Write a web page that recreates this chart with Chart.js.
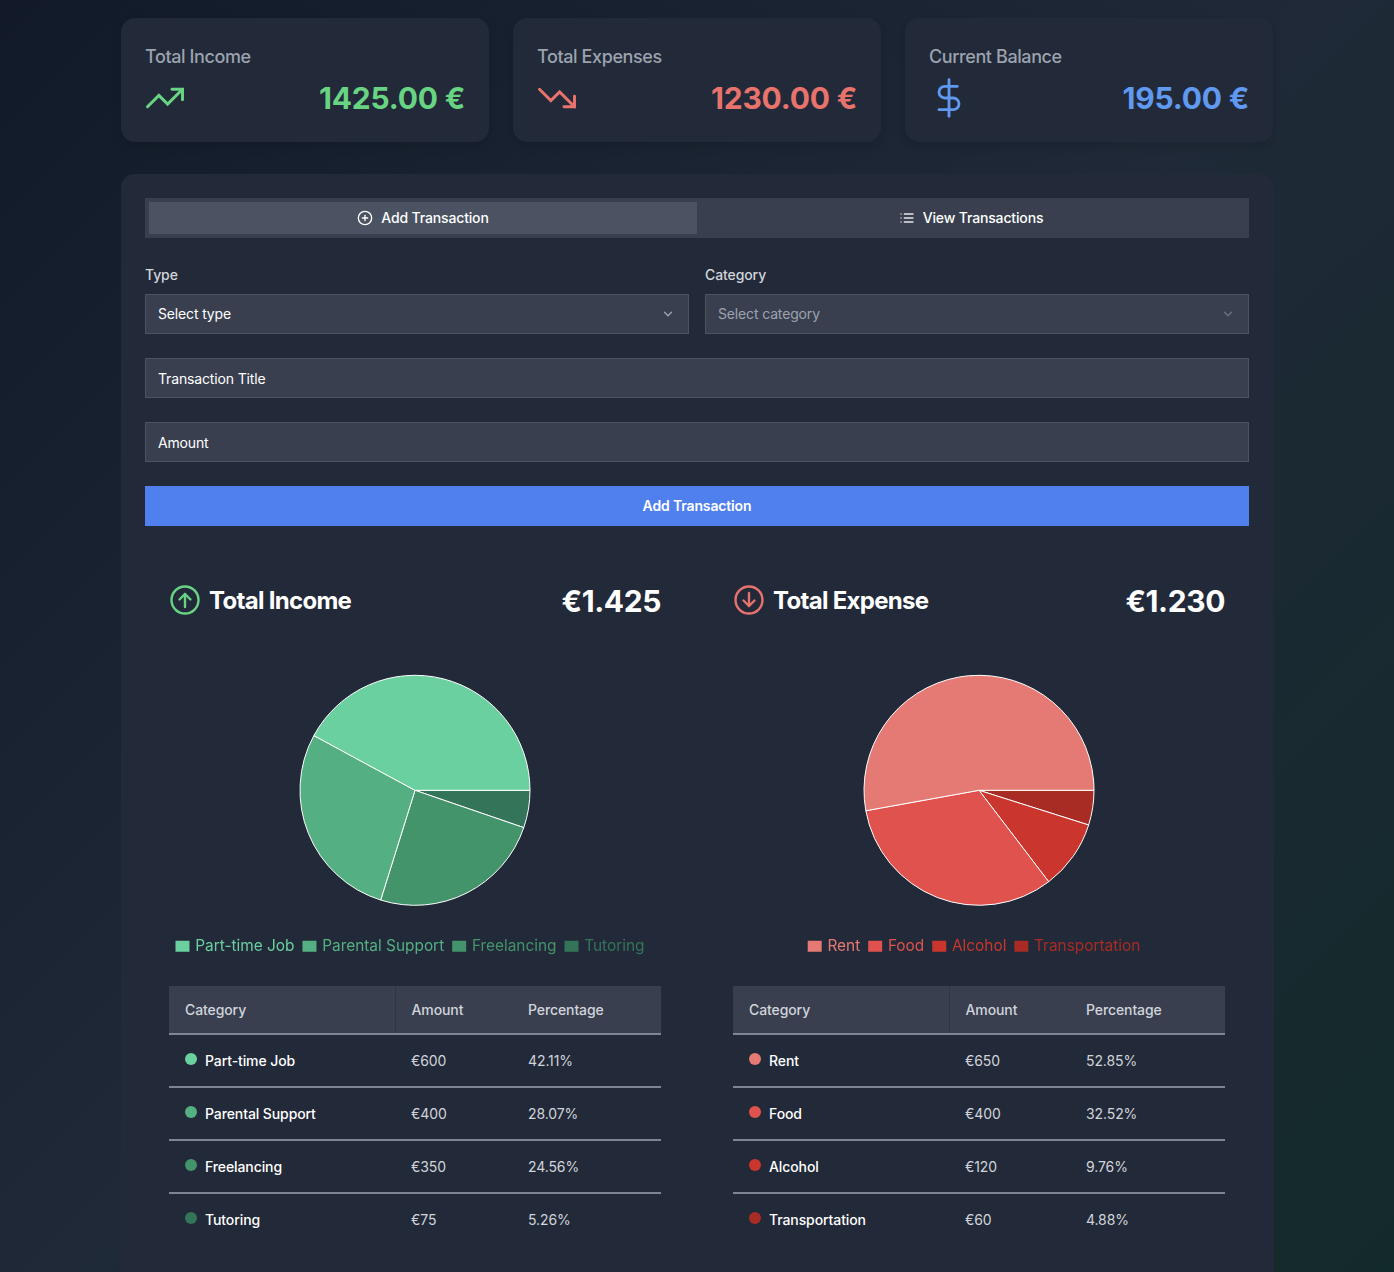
<!DOCTYPE html>
<html>
<head>
<meta charset="utf-8">
<script src="https://cdn.jsdelivr.net/npm/chart.js@4/dist/chart.umd.min.js"></script>
<style>
* { box-sizing: border-box; }
html, body { margin: 0; width: 1394px; height: 1272px; overflow: hidden; }
body {
  position: relative;
  font-family: Inter, "Noto Sans", sans-serif;
  color: #fff;
  background: linear-gradient(135deg, #121a29 0%, #1f2937 50%, #132a2a 100%);
}
.abs { position: absolute; }
.card { position: absolute; top: 18px; width: 368px; height: 124px; background: #222938; border-radius: 14px; box-shadow: 0 4px 10px rgba(0,0,0,.12); }
.card .lbl { position: absolute; left: 24px; top: 28px; font-size: 18px; line-height: 22px; font-weight: 500; letter-spacing: -0.4px; color: #9ca3af; }
.card .val { position: absolute; right: 24px; top: 60px; font-size: 30px; line-height: 40px; font-weight: 700; letter-spacing: -0.2px; }
.card svg { position: absolute; }
#panel { position: absolute; left: 121px; top: 174px; width: 1153px; height: 1110px; background: #222938; border-radius: 14px; }
.bar { position: absolute; display: flex; align-items: center; font-size: 14px; letter-spacing: -0.15px; padding-bottom: 1px; }
.field { background: #393f4f; border: 1px solid #4b5261; padding-left: 12px; height: 40px; }
.flabel { position: absolute; top: 266px; font-size: 14px; line-height: 17px; font-weight: 500; letter-spacing: -0.1px; color: #d1d5db; }
.head { position: absolute; top: 585px; font-size: 24px; line-height: 32px; font-weight: 700; letter-spacing: -0.7px; }
.total { position: absolute; top: 581px; font-size: 30px; line-height: 40px; font-weight: 700; letter-spacing: -0.4px; }
.chartbox { position: absolute; top: 652px; width: 492px; height: 312px; }
table { position: absolute; top: 986px; width: 492px; border-collapse: collapse; table-layout: fixed; font-size: 14px; letter-spacing: -0.1px; }
th { height: 48px; background: #393f4f; color: #d1d5db; font-weight: 500; text-align: left; padding: 0 16px; border-bottom: 2px solid #7f8592; }
th:first-child { border-right: 1px solid #2f3545; }
td { height: 53px; padding: 0 16px; color: #d1d5db; border-bottom: 2px solid #7f8592; }
tr:last-child td { border-bottom: none; padding-bottom: 2px; }
td.name { color: #fff; font-weight: 500; }
.dot { display: inline-block; width: 12px; height: 12px; border-radius: 50%; margin-right: 8px; position: relative; top: -1px; }
</style>
</head>
<body>

<div class="card" style="left:121px">
  <div class="lbl">Total Income</div>
  <svg style="left:23px;top:59px" width="42" height="42" viewBox="0 0 24 24" fill="none" stroke="#68d483" stroke-width="1.7" stroke-linecap="round" stroke-linejoin="miter"><polyline points="22 7 13.5 15.5 8.5 10.5 2 17"/><polyline points="16 7 22 7 22 13"/></svg>
  <div class="val" style="color:#68d483">1425.00 €</div>
</div>
<div class="card" style="left:513px">
  <div class="lbl">Total Expenses</div>
  <svg style="left:23px;top:59px" width="42" height="42" viewBox="0 0 24 24" fill="none" stroke="#e8736c" stroke-width="1.7" stroke-linecap="round" stroke-linejoin="miter"><polyline points="22 17 13.5 8.5 8.5 13.5 2 7"/><polyline points="16 17 22 17 22 11"/></svg>
  <div class="val" style="color:#e8736c">1230.00 €</div>
</div>
<div class="card" style="left:905px">
  <div class="lbl">Current Balance</div>
  <svg style="left:24px;top:60px" width="40" height="40" viewBox="0 0 24 24" fill="none" stroke="#609af0" stroke-width="1.7" stroke-linecap="round" stroke-linejoin="round"><line x1="12" y1="1" x2="12" y2="23"/><path d="M17 5H9.5a3.5 3.5 0 0 0 0 7h5a3.5 3.5 0 0 1 0 7H6"/></svg>
  <div class="val" style="color:#609af0">195.00 €</div>
</div>

<div id="panel"></div>

<div class="abs" style="left:145px;top:198px;width:1104px;height:40px;background:#393f4f"></div>
<div class="bar" style="left:149px;top:202px;width:548px;height:32px;background:#4b5261;justify-content:center;font-weight:500">
  <svg width="16" height="16" viewBox="0 0 24 24" fill="none" stroke="#fff" stroke-width="2" stroke-linecap="round" style="margin-right:8px"><circle cx="12" cy="12" r="10"/><line x1="12" y1="8" x2="12" y2="16"/><line x1="8" y1="12" x2="16" y2="12"/></svg>Add Transaction
</div>
<div class="bar" style="left:697px;top:202px;width:548px;height:32px;justify-content:center;font-weight:500">
  <svg width="16" height="16" viewBox="0 0 24 24" fill="none" stroke="#e5e7eb" stroke-width="2" stroke-linecap="round" style="margin-right:8px"><line x1="8" y1="6" x2="21" y2="6"/><line x1="8" y1="12" x2="21" y2="12"/><line x1="8" y1="18" x2="21" y2="18"/><line x1="3" y1="6" x2="3.01" y2="6"/><line x1="3" y1="12" x2="3.01" y2="12"/><line x1="3" y1="18" x2="3.01" y2="18"/></svg>View Transactions
</div>

<div class="flabel" style="left:145px">Type</div>
<div class="flabel" style="left:705px">Category</div>
<div class="bar field" style="left:145px;top:294px;width:544px">Select type
  <svg class="abs" style="right:13px;top:12px" width="14" height="14" viewBox="0 0 24 24" fill="none" stroke="#9ca3af" stroke-width="2.4" stroke-linecap="round" stroke-linejoin="round"><polyline points="6 9 12 15 18 9"/></svg>
</div>
<div class="bar field" style="left:705px;top:294px;width:544px;color:#9ca3af">Select category
  <svg class="abs" style="right:13px;top:12px" width="14" height="14" viewBox="0 0 24 24" fill="none" stroke="#6b7280" stroke-width="2.4" stroke-linecap="round" stroke-linejoin="round"><polyline points="6 9 12 15 18 9"/></svg>
</div>
<div class="bar field" style="left:145px;top:358px;width:1104px;padding-bottom:0">Transaction Title</div>
<div class="bar field" style="left:145px;top:422px;width:1104px;padding-bottom:0">Amount</div>
<div class="bar" style="left:145px;top:486px;width:1104px;height:40px;background:#4f80ee;justify-content:center;font-weight:600">Add Transaction</div>

<svg class="abs" style="left:169px;top:584px" width="32" height="32" viewBox="0 0 32 32" fill="none" stroke="#68d483" stroke-width="2.4" stroke-linecap="round" stroke-linejoin="round"><circle cx="16" cy="16" r="13.5"/><line x1="16" y1="23" x2="16" y2="10"/><polyline points="10.5 15.5 16 10 21.5 15.5"/></svg>
<div class="head" style="left:209px">Total Income</div>
<div class="total" style="right:733px">€1.425</div>
<div class="chartbox" style="left:169px"><canvas id="incomeChart"></canvas></div>
<table id="incomeTable" style="left:169px"></table>

<svg class="abs" style="left:733px;top:584px" width="32" height="32" viewBox="0 0 32 32" fill="none" stroke="#e8736c" stroke-width="2.4" stroke-linecap="round" stroke-linejoin="round"><circle cx="16" cy="16" r="13.5"/><line x1="16" y1="9" x2="16" y2="22"/><polyline points="10.5 16.5 16 22 21.5 16.5"/></svg>
<div class="head" style="left:773px">Total Expense</div>
<div class="total" style="right:169px">€1.230</div>
<div class="chartbox" style="left:733px"><canvas id="expenseChart"></canvas></div>
<table id="expenseTable" style="left:733px"></table>

<script>
const incomeCategories = ['Part-time Job', 'Parental Support', 'Freelancing', 'Tutoring'];
const incomeAmounts = [600, 400, 350, 75];
const incomePercents = ['42.11%', '28.07%', '24.56%', '5.26%'];
const incomeColors = ['#6bd09f', '#54b083', '#43936b', '#34755a'];

const expenseCategories = ['Rent', 'Food', 'Alcohol', 'Transportation'];
const expenseAmounts = [650, 400, 120, 60];
const expensePercents = ['52.85%', '32.52%', '9.76%', '4.88%'];
const expenseColors = ['#e57a74', '#e0524d', '#ca362d', '#a82b24'];

// the original legend sits a few px left of the pie centre
const nudgeLegend = {
  id: 'nudgeLegend',
  afterLayout(chart) {
    chart.legend.left -= 4;
    chart.legend.right -= 4;
  }
};

// slices run counter-clockwise from 3 o'clock in the original, chart.js only goes clockwise
// so feed them backwards and flip the legend back
function pieConfig(labels, values, colors) {
  return {
    type: 'pie',
    plugins: [nudgeLegend],
    data: {
      labels: [...labels].reverse(),
      datasets: [{
        data: [...values].reverse(),
        backgroundColor: [...colors].reverse(),
        borderColor: '#ffffff',
        borderWidth: 1
      }]
    },
    options: {
      responsive: true,
      maintainAspectRatio: false,
      animation: false,
      rotation: 90,
      radius: 115,
      plugins: {
        tooltip: { enabled: false },
        legend: {
          position: 'bottom',
          reverse: true,
          labels: {
            boxWidth: 10,
            boxHeight: 7,
            padding: 10,
            font: { family: 'Inter', size: 15.4 },
            generateLabels: function(chart) {
              const ds = chart.data.datasets[0];
              return chart.data.labels.map((label, i) => ({
                text: label,
                fillStyle: ds.backgroundColor[i],
                strokeStyle: ds.backgroundColor[i],
                fontColor: ds.backgroundColor[i],
                lineWidth: 4,
                index: i
              }));
            }
          }
        }
      }
    }
  };
}

function fillTable(id, labels, values, percents, colors, widths) {
  let html = '<colgroup>' + widths.map(w => '<col style="width:' + w + 'px">').join('') + '</colgroup>';
  html += '<tr><th>Category</th><th>Amount</th><th>Percentage</th></tr>';
  for (let i = 0; i < labels.length; i++) {
    html += '<tr><td class="name"><span class="dot" style="background:' + colors[i] + '"></span>' + labels[i] + '</td>' +
      '<td>€' + values[i] + '</td><td>' + percents[i] + '</td></tr>';
  }
  document.getElementById(id).innerHTML = html;
}

fillTable('incomeTable', incomeCategories, incomeAmounts, incomePercents, incomeColors, [226, 117, 149]);
fillTable('expenseTable', expenseCategories, expenseAmounts, expensePercents, expenseColors, [216, 121, 155]);

new Chart(document.getElementById('incomeChart'), pieConfig(incomeCategories, incomeAmounts, incomeColors));
new Chart(document.getElementById('expenseChart'), pieConfig(expenseCategories, expenseAmounts, expenseColors));
</script>
</body>
</html>
